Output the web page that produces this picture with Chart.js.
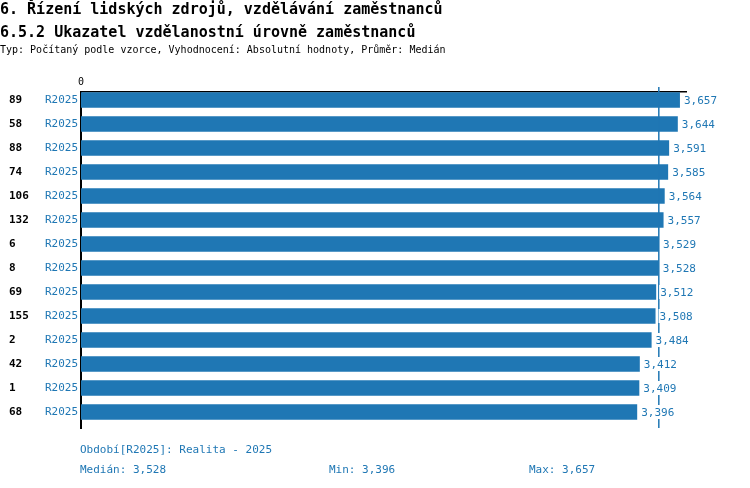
<!DOCTYPE html>
<html>
<head>
<meta charset="utf-8">
<script src="https://cdn.jsdelivr.net/npm/chart.js@4/dist/chart.umd.min.js"></script>
<style>
  body { margin: 0; background: #fff; }
  #wrap { position: relative; width: 750px; height: 488px; font-family: "DejaVu Sans Mono", monospace; }
  #wrap canvas { position: absolute; left: 0; top: 0; }
  .t { position: absolute; left: 0; white-space: pre; }
  .t1 { font-size: 15px; font-weight: bold; color: #000; }
  .t3 { font-size: 10px; color: #000; }
  .f { position: absolute; font-size: 11px; color: #1f77b4; white-space: pre; }
</style>
</head>
<body>
<div id="wrap">
  <canvas id="chart" width="750" height="488"></canvas>
  <div class="t t1" style="top:0px">6. Řízení lidských zdrojů, vzdělávání zaměstnanců</div>
  <div class="t t1" style="top:23px">6.5.2 Ukazatel vzdělanostní úrovně zaměstnanců</div>
  <div class="t t3" style="top:44px">Typ: Počítaný podle vzorce, Vyhodnocení: Absolutní hodnoty, Průměr: Medián</div>
  <div class="f" style="left:80px;top:443px">Období[R2025]: Realita - 2025</div>
  <div class="f" id="fMed" style="left:80px;top:463px"></div>
  <div class="f" id="fMin" style="left:329px;top:463px"></div>
  <div class="f" id="fMax" style="left:529px;top:463px"></div>
</div>
<script>
var ids = ["89","58","88","74","106","132","6","8","69","155","2","42","1","68"];
var periods = ["R2025","R2025","R2025","R2025","R2025","R2025","R2025","R2025","R2025","R2025","R2025","R2025","R2025","R2025"];
var values = [3657,3644,3591,3585,3564,3557,3529,3528,3512,3508,3484,3412,3409,3396];
var median = 3528;
var minValue = 3396;
var maxValue = 3657;

var blue = "#1f77b4";
var mono = "DejaVu Sans Mono";

var fmt = function (v) { return v.toLocaleString("en-US"); };

document.getElementById("fMed").textContent = "Medián: " + fmt(median);
document.getElementById("fMin").textContent = "Min: " + fmt(minValue);
document.getElementById("fMax").textContent = "Max: " + fmt(maxValue);

var rowTicks = function (scale) {
    scale.ticks = ids.map(function (_, i) { return { value: i }; });
};

var barData = values.map(function (v, i) { return { x: v, y: i }; });

var medianAndLabels = {
    id: "medianAndLabels",
    afterDatasetsDraw: function (chart) {
        let ctx = chart.ctx;
        let xs = chart.scales.x;
        let area = chart.chartArea;
        let mx = xs.getPixelForValue(median);
        ctx.save();
        ctx.strokeStyle = blue;
        ctx.lineWidth = 1.5;
        ctx.beginPath();
        ctx.moveTo(mx, area.top - 5);
        ctx.lineTo(mx, area.bottom);
        ctx.stroke();

        ctx.font = "11px '" + mono + "'";
        ctx.textBaseline = "middle";
        ctx.textAlign = "left";
        let meta = chart.getDatasetMeta(0);
        meta.data.forEach(function (bar, i) {
            let text = fmt(values[i]);
            let w = ctx.measureText(text).width;
            let x = bar.x + 4;
            ctx.fillStyle = "#fff";
            ctx.fillRect(x - 1, bar.y - 7, w + 2, 14);
            ctx.fillStyle = blue;
            ctx.fillText(text, x, bar.y + 1);
        });
        ctx.restore();
    }
};

new Chart(document.getElementById("chart").getContext("2d"), {
    type: "bar",
    data: {
        datasets: [{
            data: barData,
            backgroundColor: blue,
            borderWidth: 0,
            barPercentage: 0.64,
            categoryPercentage: 1
        }]
    },
    options: {
        indexAxis: "y",
        responsive: false,
        animation: false,
        devicePixelRatio: 1,
        layout: { padding: { left: 9, top: 0, right: 64, bottom: 60 } },
        plugins: { legend: { display: false }, tooltip: { enabled: false } },
        scales: {
            x: {
                type: "linear",
                position: "top",
                min: 0,
                max: 3694,
                afterBuildTicks: function (scale) { scale.ticks = [{ value: 0 }]; },
                afterFit: function (scale) { scale.height = 92; },
                grid: { display: false, drawTicks: false },
                border: { display: true, color: "#000", width: 1.5 },
                ticks: {
                    padding: 4,
                    color: "#000",
                    font: { family: mono, size: 10 },
                    callback: function (v) { return String(v); }
                }
            },
            y: {
                type: "linear",
                position: "left",
                reverse: true,
                offset: false,
                min: -1 / 3,
                max: ids.length - 1 / 3,
                weight: 0,
                afterBuildTicks: rowTicks,
                afterFit: function (scale) { scale.width = 36; },
                grid: { display: false, drawTicks: false, offset: false },
                border: { display: true, color: "#000", width: 2 },
                ticks: {
                    padding: 3,
                    color: blue,
                    font: { family: mono, size: 11 },
                    callback: function (v) { return periods[v]; }
                }
            },
            yId: {
                type: "linear",
                position: "left",
                reverse: true,
                offset: false,
                min: -1 / 3,
                max: ids.length - 1 / 3,
                weight: 1,
                afterBuildTicks: rowTicks,
                afterFit: function (scale) { scale.width = 36; },
                grid: { display: false, drawTicks: false, offset: false },
                border: { display: false },
                ticks: {
                    crossAlign: "far",
                    padding: 0,
                    color: "#000",
                    font: { family: mono, size: 11, weight: "bold" },
                    callback: function (v) { return ids[v]; }
                }
            }
        }
    },
    plugins: [medianAndLabels]
});
</script>
</body>
</html>
